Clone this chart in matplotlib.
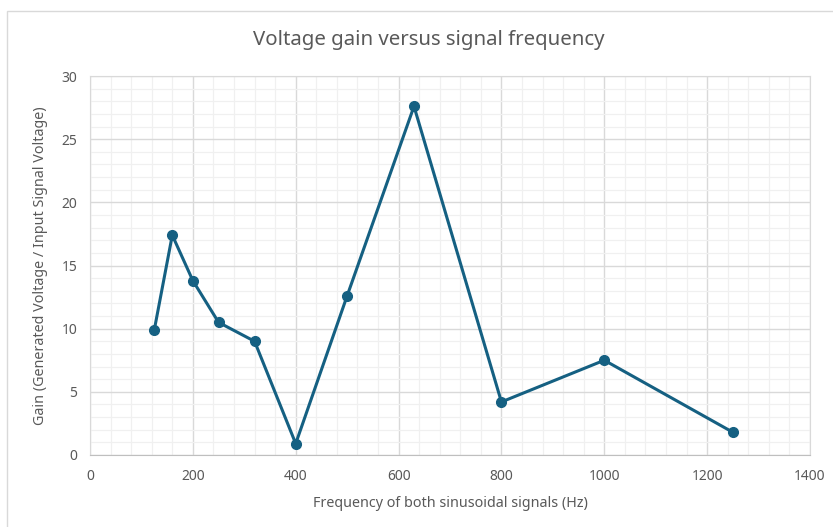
import matplotlib.pyplot as plt
from matplotlib.patches import Rectangle
from matplotlib.ticker import MultipleLocator

freq = [125, 160, 200, 250, 320, 400, 500, 630, 800, 1000, 1250]
gain = [9.9, 17.4, 13.8, 10.5, 9.0, 0.9, 12.6, 27.6, 4.2, 7.5, 1.8]

text_col = '#595959'
line_col = '#156082'

fig = plt.figure(figsize=(8.33, 5.27), dpi=100)
# outer chart border (cropped on right/bottom)
fig.patches.append(Rectangle((7 / 833, -0.01), 1.2, 1 - 11 / 527 + 0.01,
                             transform=fig.transFigure, fill=False,
                             edgecolor='#d9d9d9', linewidth=1.0))

ax = fig.add_axes([90 / 833, 72 / 527, 720 / 833, 379 / 527])
ax.plot(freq, gain, color=line_col, linewidth=2.2, marker='o',
        markersize=7, zorder=3)

ax.set_xlim(0, 1400)
ax.set_ylim(0, 30)
ax.xaxis.set_major_locator(MultipleLocator(200))
ax.xaxis.set_minor_locator(MultipleLocator(40))
ax.yaxis.set_major_locator(MultipleLocator(5))
ax.yaxis.set_minor_locator(MultipleLocator(1))
ax.grid(which='major', color='#d9d9d9', linewidth=1.0)
ax.grid(which='minor', color='#f0f0f0', linewidth=0.9)
ax.set_axisbelow(True)

for s in ['top', 'right', 'left']:
    ax.spines[s].set_color('#d9d9d9')
ax.spines['bottom'].set_color('#bfbfbf')
ax.tick_params(which='both', length=0, colors=text_col, labelsize=10)
ax.tick_params(axis='x', pad=10)
ax.tick_params(axis='y', pad=9)
for lab in ax.get_xticklabels() + ax.get_yticklabels():
    lab.set_fontfamily('Noto Sans')

ax.set_xlabel('Frequency of both sinusoidal signals (Hz)', color=text_col,
              fontsize=10.3, family='Noto Sans', labelpad=9)
ax.set_ylabel('Gain (Generated Voltage / Input Signal Voltage)', color=text_col,
              fontsize=10.3, family='Noto Sans', labelpad=10)
fig.text(429 / 833, 1 - 40 / 527, 'Voltage gain versus signal frequency',
         ha='center', va='center', color=text_col, fontsize=14.7,
         family='Noto Sans')

fig.savefig('out.png', dpi=100)
